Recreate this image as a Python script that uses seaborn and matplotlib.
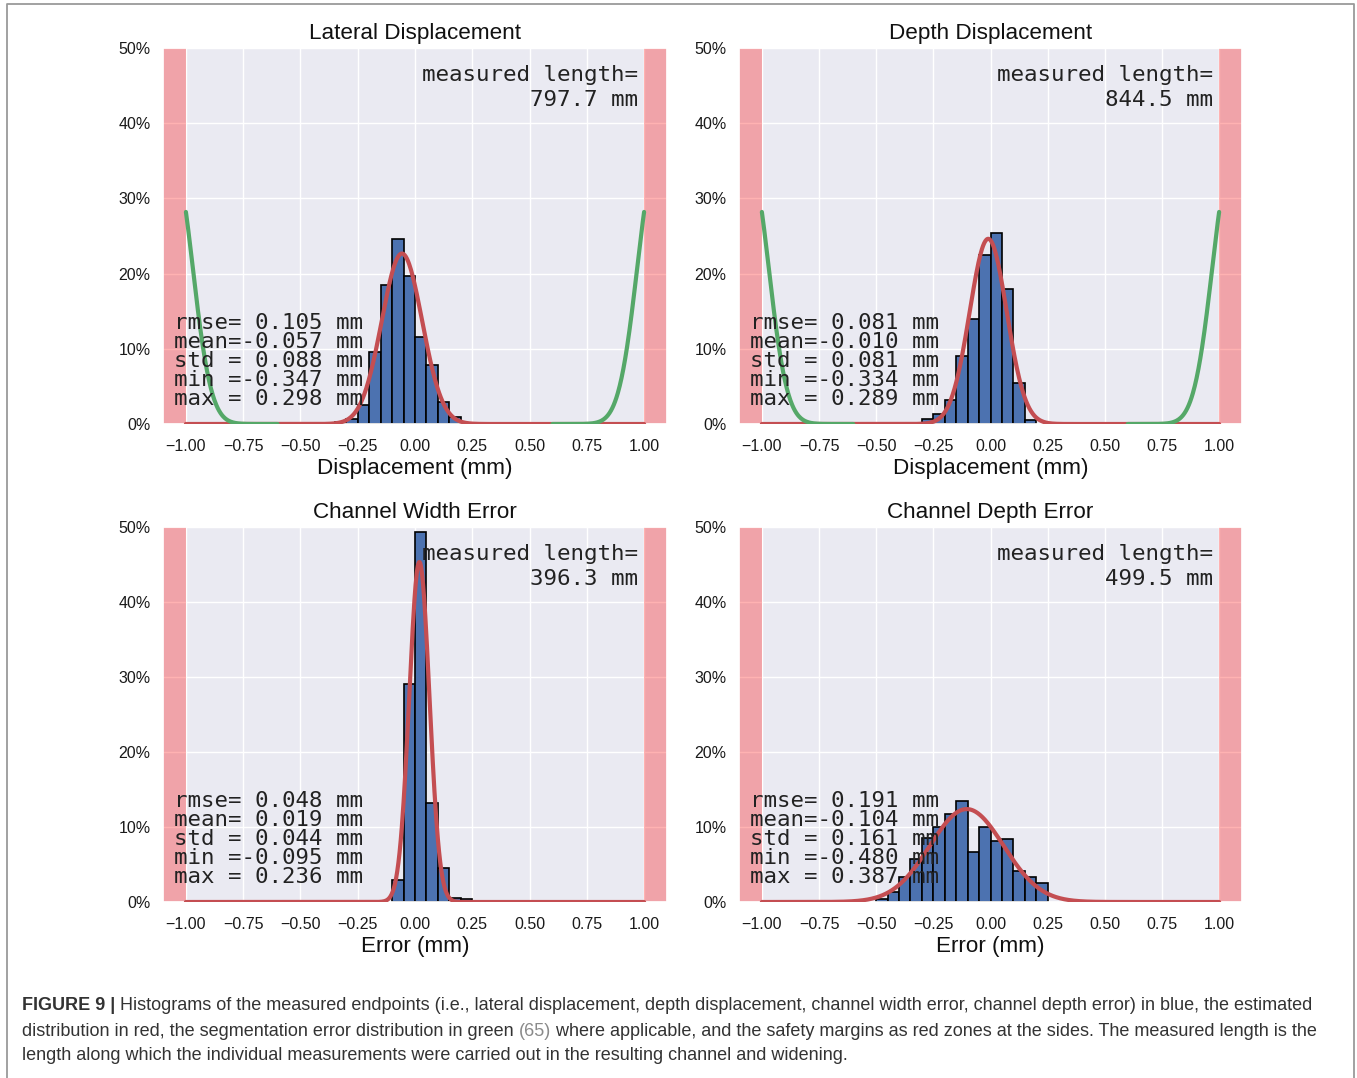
import numpy as np
import pandas as pd
import matplotlib
matplotlib.use("Agg")
import matplotlib.pyplot as plt
from matplotlib.ticker import PercentFormatter
from matplotlib.lines import Line2D
import seaborn as sns

# ---------------- data ----------------
bin_width = 0.05
titles = ["Lateral Displacement", "Depth Displacement", "Channel Width Error", "Channel Depth Error"]
xlabels = ["Displacement (mm)", "Displacement (mm)", "Error (mm)", "Error (mm)"]

# histogram bars: first bin left edge and bar heights in percent
lat_first_edge = -0.35
lat_pct = [0.3, 0.7, 2.5, 9.6, 18.5, 24.6, 19.7, 11.6, 7.9, 2.9, 0.9]
dep_first_edge = -0.30
dep_pct = [0.6, 1.3, 3.2, 9.0, 14.0, 22.5, 25.4, 17.9, 5.4, 0.5]
cw_first_edge = -0.10
cw_pct = [2.9, 29.1, 49.4, 13.2, 4.6, 0.6, 0.35]
cd_first_edge = -0.50
cd_pct = [0.35, 1.4, 3.4, 5.8, 8.5, 10.0, 11.8, 13.5, 6.7, 10.0, 8.1, 8.4, 4.2, 3.4, 2.6]

# statistics: rmse, mean, std, min, max (mm)
lat_stats = [0.105, -0.057, 0.088, -0.347, 0.298]
dep_stats = [0.081, -0.010, 0.081, -0.334, 0.289]
cw_stats = [0.048, 0.019, 0.044, -0.095, 0.236]
cd_stats = [0.191, -0.104, 0.161, -0.480, 0.387]
measured_lengths = [797.7, 844.5, 396.3, 499.5]
show_segmentation = [True, True, False, False]

# segmentation error distribution (green)
seg_center = 1.05
seg_sigma = 0.08
seg_value_at_edge = 0.282
seg_extent = 0.6

tick_values = [-1.0, -0.75, -0.5, -0.25, 0.0, 0.25, 0.5, 0.75, 1.0]
ytick_values = [0.0, 0.1, 0.2, 0.3, 0.4, 0.5]

panels = [
    (lat_first_edge, lat_pct, lat_stats),
    (dep_first_edge, dep_pct, dep_stats),
    (cw_first_edge, cw_pct, cw_stats),
    (cd_first_edge, cd_pct, cd_stats),
]

# ---------------- style ----------------
sns.set_theme(style="darkgrid")
plt.rcParams['font.family'] = ['Liberation Sans', 'DejaVu Sans']

BLUE = "#4C72B0"
RED = "#C44E52"
GREEN = "#55A868"

W, H = 1357, 1078
fig = plt.figure(figsize=(W / 100, H / 100), dpi=100)
fig.patch.set_facecolor("white")


def add_ax(l, t, r, b):
    return fig.add_axes([l / W, 1 - b / H, (r - l) / W, (b - t) / H])


axes = [add_ax(163, 48, 667, 424), add_ax(739, 48, 1242, 424),
        add_ax(163, 527, 667, 902), add_ax(739, 527, 1242, 902)]

xs = np.linspace(-1.0, 1.0, 801)
for i, (ax, (first_edge, pct, stats)) in enumerate(zip(axes, panels)):
    n = len(pct)
    edges = [round(first_edge + bin_width * k, 4) for k in range(n + 1)]
    centers = [e + bin_width / 2 for e in edges[:-1]]
    df = pd.DataFrame({"x": centers, "w": [p / 100.0 for p in pct]})

    ax.axvspan(-1.1, -1.0, color="red", alpha=0.3, lw=0, zorder=1)
    ax.axvspan(1.0, 1.1, color="red", alpha=0.3, lw=0, zorder=1)

    sns.histplot(data=df, x="x", weights="w", bins=edges, stat="count", ax=ax,
                 color=BLUE, edgecolor="black", linewidth=1.2, alpha=1.0, zorder=2)

    rmse, mean, std, vmin, vmax = stats
    pdf = bin_width * np.exp(-0.5 * ((xs - mean) / std) ** 2) / (std * np.sqrt(2 * np.pi))
    sns.lineplot(x=xs, y=pdf, ax=ax, color=RED, lw=3, zorder=3)

    if show_segmentation[i]:
        amp = seg_value_at_edge * np.exp((seg_center - 1.0) ** 2 / (2 * seg_sigma ** 2))
        xl = np.linspace(-1.0, -seg_extent, 200)
        yl = amp * np.exp(-0.5 * ((xl + seg_center) / seg_sigma) ** 2)
        sns.lineplot(x=xl, y=yl, ax=ax, color=GREEN, lw=3, zorder=4)
        xr = np.linspace(seg_extent, 1.0, 200)
        yr = amp * np.exp(-0.5 * ((xr - seg_center) / seg_sigma) ** 2)
        sns.lineplot(x=xr, y=yr, ax=ax, color=GREEN, lw=3, zorder=4)

    ax.set_xlim(-1.1, 1.1)
    ax.set_ylim(0, 0.5)
    ax.set_xticks(tick_values)
    ax.set_xticklabels([f"{v:.2f}".replace("-", "\u2212") for v in tick_values])
    ax.set_yticks(ytick_values)
    ax.yaxis.set_major_formatter(PercentFormatter(1.0, decimals=0))
    ax.tick_params(axis="both", labelsize=11.5, colors="#1a1a1a")
    ax.tick_params(axis="x", pad=4.5)
    ax.tick_params(axis="y", pad=3)
    ax.set_ylabel("")
    ax.set_xlabel(xlabels[i], fontsize=16.2, labelpad=3, color="#111111")
    ax.set_title(titles[i], fontsize=16.2, pad=6.5, color="#111111")

    lines = [f"rmse={rmse: .3f} mm", f"mean={mean: .3f} mm", f"std ={std: .3f} mm",
             f"min ={vmin: .3f} mm", f"max ={vmax: .3f} mm"]
    for k, s in enumerate(lines):
        ypx = 323 + 19 * k
        ax.text(0.021, (424 - ypx) / 376, s, transform=ax.transAxes, ha="left", va="center",
                family="DejaVu Sans Mono", fontsize=16.1, color="#222222", zorder=5)
    ax.text(0.9425, (424 - 75) / 376, "measured length=", transform=ax.transAxes,
            ha="right", va="center", family="DejaVu Sans Mono", fontsize=16.2,
            color="#222222", zorder=5)
    ax.text(0.9425, (424 - 100) / 376, f"{measured_lengths[i]:.1f} mm", transform=ax.transAxes,
            ha="right", va="center", family="DejaVu Sans Mono", fontsize=16.2,
            color="#222222", zorder=5)

# frame around the figure
frame_color = "#9a9a9a"
fig.add_artist(Line2D([7 / W, 7 / W, 1354 / W, 1354 / W], [0, 1 - 4 / H, 1 - 4 / H, 0],
                      transform=fig.transFigure, color=frame_color, lw=1.3))

# caption
cap_size = 13.0
cap_color = "#333333"
caption = [
    [("FIGURE 9 |", "bold", cap_color),
     (" Histograms of the measured endpoints (i.e., lateral displacement, depth displacement, "
      "channel width error, channel depth error) in blue, the estimated", "normal", cap_color)],
    [("distribution in red, the segmentation error distribution in green ", "normal", cap_color),
     ("(65)", "normal", "#8a8a8a"),
     (" where applicable, and the safety margins as red zones at the sides. The measured length is the",
      "normal", cap_color)],
    [("length along which the individual measurements were carried out in the resulting channel "
      "and widening.", "normal", cap_color)],
]
renderer = fig.canvas.get_renderer()
for li, segs in enumerate(caption):
    ypx = 1006 + 25 * li
    xpx = 22.0
    for text, weight, col in segs:
        t = fig.text(xpx / W, 1 - ypx / H, text, fontsize=cap_size, fontweight=weight,
                     color=col, ha="left", va="center")
        bb = t.get_window_extent(renderer=renderer)
        xpx += bb.width

fig.savefig("out.png", dpi=100)
